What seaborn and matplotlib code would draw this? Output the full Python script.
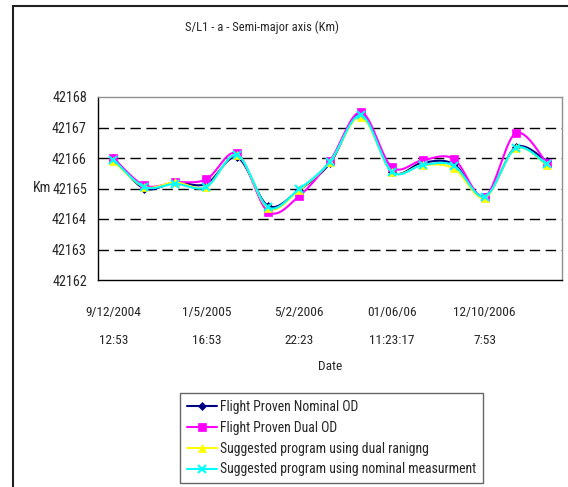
import numpy as np
import pandas as pd
import matplotlib
matplotlib.use("Agg")
import matplotlib.pyplot as plt
import matplotlib.font_manager as fm
import seaborn as sns
from matplotlib.patches import Rectangle
from matplotlib.lines import Line2D

# ---------------- data ----------------
tick_positions = [0, 3, 6, 9, 12]
tick_labels = ["9/12/2004\n12:53", "1/5/2005\n16:53", "5/2/2006\n22:23",
               "01/06/06\n11:23:17", "12/10/2006\n7:53"]

nominal = [42166.0, 42165.0, 42165.2, 42165.15, 42166.02, 42164.43, 42164.95,
           42165.83, 42167.45, 42165.55, 42165.85, 42165.8, 42164.73, 42166.35, 42165.91]
dual = [42166.0, 42165.1, 42165.2, 42165.3, 42166.15, 42164.24, 42164.75,
        42165.91, 42167.5, 42165.7, 42165.93, 42165.97, 42164.73, 42166.81, 42165.85]
dual_ranging = [42165.9, 42165.05, 42165.2, 42165.05, 42166.1, 42164.35, 42164.95,
                42165.88, 42167.35, 42165.55, 42165.77, 42165.66, 42164.7, 42166.32, 42165.77]
nominal_meas = [42165.95, 42165.05, 42165.15, 42165.05, 42166.1, 42164.38, 42164.98,
                42165.88, 42167.4, 42165.55, 42165.77, 42165.75, 42164.73, 42166.32, 42165.8]

series_names = ["Flight Proven Nominal OD", "Flight Proven Dual OD",
                "Suggested program using dual ranigng",
                "Suggested program using nominal measurment"]
series_values = [nominal, dual, dual_ranging, nominal_meas]
colors = ["#000080", "#FF00FF", "#FFFF00", "#00FFFF"]
markers = ["D", "s", "^", "x"]
marker_sizes = [4, 6, 6, 6]

# ---------------- style ----------------
sns.set_theme(style="white")
available = {f.name for f in fm.fontManager.ttflist}
narrow_candidates = ["Liberation Sans Narrow", "Arial Narrow", "Roboto Condensed",
                     "Open Sans Condensed", "DejaVu Sans Condensed"]
narrow = next((f for f in narrow_candidates if f in available), None)
if narrow is not None:
    plt.rcParams["font.family"] = [narrow, "Liberation Sans", "DejaVu Sans"]
    FS_TICK, FS_TITLE, FS_LEG, FS_YT = 9.6, 9.0, 9.9, 10.2
else:
    plt.rcParams["font.family"] = ["Liberation Sans", "DejaVu Sans"]
    FS_TICK, FS_TITLE, FS_LEG, FS_YT = 9.2, 9.0, 9.0, 9.2
plt.rcParams["font.stretch"] = "condensed"

W, H = 568, 487
fig = plt.figure(figsize=(W / 100, H / 100), dpi=100)
fig.patch.set_facecolor("white")
ax = fig.add_axes([98 / W, 1 - 280 / H, (562 - 98) / W, (280 - 97) / H])


def smooth(y, n=20):
    """Excel-style smoothed line (Catmull-Rom Bezier) through the data points."""
    y = np.asarray(y, dtype=float)
    x = np.arange(len(y), dtype=float)
    P = np.column_stack([x, y])
    out = []
    for i in range(len(P) - 1):
        p0 = P[i]
        p3 = P[i + 1]
        pm = P[i - 1] if i > 0 else P[i]
        pp = P[i + 2] if i + 2 < len(P) else P[i + 1]
        p1 = p0 + (p3 - pm) / 6.0
        p2 = p3 - (pp - p0) / 6.0
        t = np.linspace(0, 1, n, endpoint=(i == len(P) - 2))[:, None]
        seg = ((1 - t) ** 3) * p0 + 3 * ((1 - t) ** 2) * t * p1 + 3 * (1 - t) * t ** 2 * p2 + t ** 3 * p3
        out.append(seg)
    out = np.vstack(out)
    return out[:, 0], out[:, 1]


for name, vals, c, m, ms in zip(series_names, series_values, colors, markers, marker_sizes):
    sx, sy = smooth(vals)
    df = pd.DataFrame({"x": sx, "y": sy})
    sns.lineplot(data=df, x="x", y="y", ax=ax, color=c, lw=1.5, sort=False, legend=False)
    ax.plot(np.arange(len(vals)), vals, linestyle="none", marker=m, color=c,
            markersize=ms, markeredgewidth=1.5 if m == "x" else 0.5, markeredgecolor=c)

# axes limits & grid
ax.set_xlim(-0.5, 14.5)
ax.set_ylim(42162, 42168)
for yv in range(42163, 42168):
    ax.axhline(yv, color="black", lw=1.0, dashes=(7.5, 4), zorder=0)

ax.set_yticks(range(42162, 42169))
ax.set_yticklabels([str(v) for v in range(42162, 42169)], fontsize=FS_YT)
ax.tick_params(axis="y", which="major", direction="out", length=4, width=1, color="black", pad=4)

ax.set_xticks(np.arange(-0.5, 15, 1.0))
ax.set_xticklabels([])
ax.tick_params(axis="x", which="major", direction="out", length=6, width=1, color="black")
ax.set_xticks(tick_positions, minor=True)
ax.set_xticklabels(tick_labels, minor=True, fontsize=FS_TICK, linespacing=2.5)
ax.tick_params(axis="x", which="minor", length=0, pad=19)

ax.set_xlabel("Date", fontsize=FS_TICK, labelpad=9)
ax.set_ylabel("Km", fontsize=FS_YT, rotation=0, ha="center", va="center")
ax.yaxis.set_label_coords((42 - 98) / (562 - 98), 0.5)

for side in ["left", "bottom"]:
    ax.spines[side].set_color("black")
    ax.spines[side].set_linewidth(1.0)
for side in ["top", "right"]:
    ax.spines[side].set_color("#909090")
    ax.spines[side].set_linewidth(1.0)

fig.text(262 / W, 1 - 27 / H, "S/L1 - a - Semi-major axis (Km)", ha="center", va="center",
         fontsize=FS_TITLE)

# legend
handles = [Line2D([0], [0], color=c, marker=m, markersize=ms, lw=1.5,
                  markeredgewidth=1.5 if m == "x" else 0.5)
           for c, m, ms in zip(colors, markers, marker_sizes)]
leg = fig.legend(handles, series_names, loc="upper left",
                 bbox_to_anchor=(180 / W, 1 - 393 / H), fontsize=FS_LEG, frameon=True,
                 fancybox=False, handlelength=2.2, handletextpad=0.2, labelspacing=0.5,
                 borderpad=0.5, borderaxespad=0)
leg.get_frame().set_edgecolor("#404040")
leg.get_frame().set_linewidth(1.0)

# outer chart frame (left and top edges visible)
fig.add_artist(Rectangle((13 / W, -0.05), 1.2, 1 - 6 / H + 0.05, transform=fig.transFigure,
                         fill=False, edgecolor="#202020", lw=1.5))

fig.savefig("out.png", dpi=100)
